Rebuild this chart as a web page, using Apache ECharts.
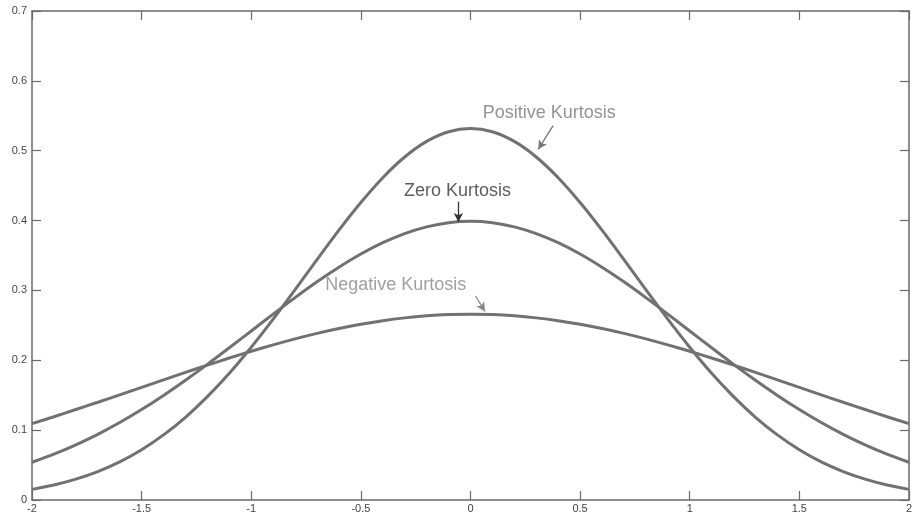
<!DOCTYPE html>
<html>
<head>
<meta charset="utf-8">
<script src="https://cdn.jsdelivr.net/npm/echarts@6/dist/echarts.min.js"></script>
<style>
  html, body { margin: 0; padding: 0; background: #ffffff; }
  #chart { width: 915px; height: 515px; }
</style>
</head>
<body>
<div id="chart"></div>
<script>
// Sample positions along the x axis
const xValues = [-2.0, -1.9, -1.8, -1.7, -1.6, -1.5, -1.4, -1.3, -1.2, -1.1, -1.0,
                 -0.9, -0.8, -0.7, -0.6, -0.5, -0.4, -0.3, -0.2, -0.1, 0.0,
                 0.1, 0.2, 0.3, 0.4, 0.5, 0.6, 0.7, 0.8, 0.9, 1.0,
                 1.1, 1.2, 1.3, 1.4, 1.5, 1.6, 1.7, 1.8, 1.9, 2.0];

// Peaked, narrow distribution
const positiveKurtosis = [0.0152, 0.0215, 0.0299, 0.0407, 0.0546, 0.0720, 0.0932, 0.1184, 0.1479, 0.1814, 0.2187,
                          0.2589, 0.3011, 0.3441, 0.3863, 0.4259, 0.4614, 0.4910, 0.5133, 0.5272, 0.5319,
                          0.5272, 0.5133, 0.4910, 0.4614, 0.4259, 0.3863, 0.3441, 0.3011, 0.2589, 0.2187,
                          0.1814, 0.1479, 0.1184, 0.0932, 0.0720, 0.0546, 0.0407, 0.0299, 0.0215, 0.0152];

// Normal-shaped distribution
const zeroKurtosis = [0.0540, 0.0656, 0.0790, 0.0940, 0.1109, 0.1295, 0.1497, 0.1714, 0.1942, 0.2179, 0.2420,
                      0.2661, 0.2897, 0.3123, 0.3332, 0.3521, 0.3683, 0.3814, 0.3910, 0.3970, 0.3989,
                      0.3970, 0.3910, 0.3814, 0.3683, 0.3521, 0.3332, 0.3123, 0.2897, 0.2661, 0.2420,
                      0.2179, 0.1942, 0.1714, 0.1497, 0.1295, 0.1109, 0.0940, 0.0790, 0.0656, 0.0540];

// Flat, wide distribution
const negativeKurtosis = [0.1093, 0.1192, 0.1295, 0.1399, 0.1505, 0.1613, 0.1720, 0.1827, 0.1931, 0.2032, 0.2129,
                          0.2221, 0.2307, 0.2385, 0.2455, 0.2516, 0.2567, 0.2607, 0.2636, 0.2654, 0.2660,
                          0.2654, 0.2636, 0.2607, 0.2567, 0.2516, 0.2455, 0.2385, 0.2307, 0.2221, 0.2129,
                          0.2032, 0.1931, 0.1827, 0.1720, 0.1613, 0.1505, 0.1399, 0.1295, 0.1192, 0.1093];

// Text annotations with their arrows, in data units
const annotationLabels = ['Positive Kurtosis', 'Zero Kurtosis', 'Negative Kurtosis'];
const annotationTextAt = [[0.359, 0.554], [-0.059, 0.442], [-0.341, 0.308]];
const annotationArrowFrom = [[0.377, 0.536], [-0.055, 0.427], [0.023, 0.292]];
const annotationArrowTo = [[0.309, 0.502], [-0.055, 0.398], [0.066, 0.270]];
const annotationColors = ['#777777', '#333333', '#888888'];

const curveColor = '#717171';
const axisColor = '#6a6a6a';
const font = 'Liberation Sans, Arial, sans-serif';

const pairs = ys => xValues.map((x, i) => [x, ys[i]]);

const chart = echarts.init(document.getElementById('chart'), null, { renderer: 'canvas' });

const axisCommon = {
  type: 'value',
  axisLine: { show: true, onZero: false, lineStyle: { color: axisColor, width: 1.5 } },
  axisTick: { show: true, inside: true, length: 9, lineStyle: { color: axisColor, width: 1.2 } },
  splitLine: { show: false }
};

function curve(name, values) {
  return {
    name: name,
    type: 'line',
    data: pairs(values),
    smooth: 0.3,
    showSymbol: false,
    lineStyle: { color: curveColor, width: 3 },
    z: 3
  };
}

const series = [
  curve('Positive Kurtosis', positiveKurtosis),
  curve('Zero Kurtosis', zeroKurtosis),
  curve('Negative Kurtosis', negativeKurtosis),
  {
    name: 'annotations',
    type: 'scatter',
    data: annotationTextAt.map((p, i) => ({
      value: p,
      label: {
        show: true,
        position: 'inside',
        formatter: annotationLabels[i],
        color: annotationColors[i],
        fontSize: 18,
        fontFamily: font
      }
    })),
    symbolSize: 1,
    itemStyle: { color: 'rgba(0,0,0,0)' },
    silent: true,
    z: 5,
    markLine: {
      silent: true,
      symbol: ['none', 'arrow'],
      symbolSize: [7, 9],
      label: { show: false },
      data: annotationArrowFrom.map((p, i) => [
        { coord: p, lineStyle: { color: annotationColors[i], width: 1.3, type: 'solid' } },
        { coord: annotationArrowTo[i] }
      ])
    }
  }
];

chart.setOption({
  animation: false,
  backgroundColor: '#ffffff',
  grid: { left: 32, right: 2, top: 11, bottom: 15, containLabel: false },
  xAxis: [
    Object.assign({}, axisCommon, {
      position: 'bottom', min: -2, max: 2, interval: 0.5,
      axisLabel: { color: '#444444', fontSize: 11, fontFamily: font, margin: 3 }
    }),
    Object.assign({}, axisCommon, {
      position: 'top', min: -2, max: 2, interval: 0.5,
      axisLabel: { show: false }
    })
  ],
  yAxis: [
    Object.assign({}, axisCommon, {
      position: 'left', min: 0, max: 0.7, interval: 0.1,
      axisLabel: { color: '#444444', fontSize: 11, fontFamily: font, margin: 5 }
    }),
    Object.assign({}, axisCommon, {
      position: 'right', min: 0, max: 0.7, interval: 0.1,
      axisLabel: { show: false }
    })
  ],
  series: series
});
</script>
</body>
</html>
